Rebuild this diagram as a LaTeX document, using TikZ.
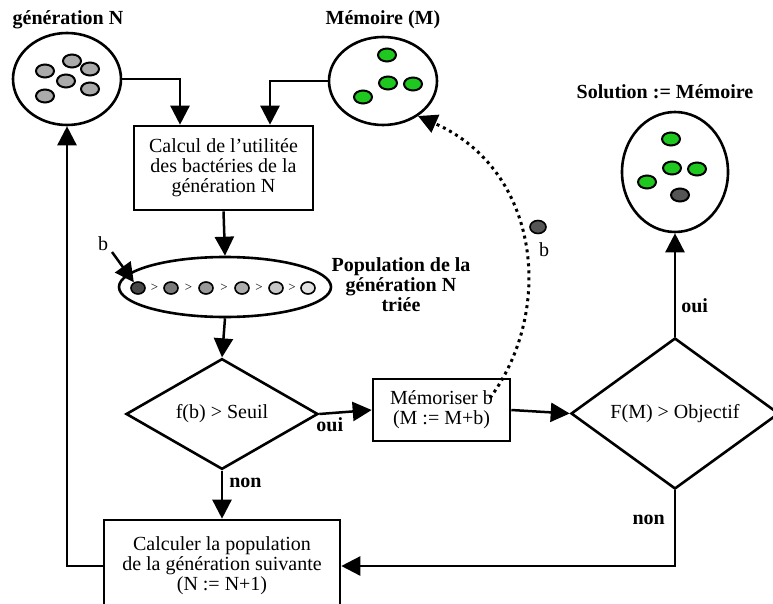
\documentclass[tikz,border=0pt]{standalone}
\usepackage{fontspec}
\setmainfont{Liberation Serif}
\usetikzlibrary{shapes.geometric,arrows.meta,calc}
\definecolor{cellgray}{RGB}{170,170,170}
\definecolor{cellgreen}{RGB}{30,200,30}
\definecolor{celldark}{RGB}{85,85,85}
\begin{document}
\begin{tikzpicture}[x=1pt,y=-1pt,
  font=\fontsize{20}{20}\selectfont,
  line width=2.5pt,
  arr/.style={-{Triangle[length=19pt,width=19pt]}},
  boxnode/.style={draw, line width=2.6pt, align=center, inner sep=0},
  bag/.style={draw, ellipse, line width=2.6pt, inner sep=0},
  test/.style={draw, diamond, line width=2.6pt, inner sep=0},
  lab/.style={font=\fontsize{20}{20}\selectfont\bfseries, align=center, inner sep=0},
  cell/.style={draw, ellipse, line width=2pt, minimum width=18pt, minimum height=13pt, inner sep=0},
  dot/.style={draw, ellipse, line width=1.6pt, minimum width=14pt, minimum height=12pt, inner sep=0},
  gt/.style={font=\fontsize{13}{13}\selectfont, inner sep=0},
]
\useasboundingbox (0,0) rectangle (773,604);

% --- generation N -------------------------------------------------
\node[lab] (tgen) at (68,20) {génération N};
\node[bag, minimum width=108pt, minimum height=92pt] (gen) at (67,79) {};
\foreach \n/\x/\y in {1/45/71, 2/72/61, 3/90/69, 4/66/81, 5/90/89, 6/45/96}
  \node[cell, fill=cellgray] (g\n) at (\x,\y) {};

% --- memory M -----------------------------------------------------
\node[lab] (tmem) at (383,20) {Mémoire (M)};
\node[bag, minimum width=108pt, minimum height=88pt] (mem) at (383,81) {};
\foreach \n/\x/\y in {1/387/55, 2/388/83, 3/413/84, 4/363/97}
  \node[cell, fill=cellgreen] (m\n) at (\x,\y) {};

% --- solution -----------------------------------------------------
\node[lab] (tsol) at (665,92) {Solution := Mémoire};
\node[bag, minimum width=106pt, minimum height=120pt] (sol) at (675,172) {};
\foreach \n/\x/\y in {1/671/139, 2/672/168, 3/697/169, 4/647/182}
  \node[cell, fill=cellgreen] (s\n) at (\x,\y) {};
\node[cell, fill=celldark] (s5) at (680,195) {};

% --- utility computation ------------------------------------------
\node[boxnode, minimum width=179pt, minimum height=84pt] (calc) at (223.5,168)
  {Calcul de l'utilitée\\des bactéries de la\\génération N};

% --- sorted population --------------------------------------------
\node[bag, minimum width=212pt, minimum height=60pt] (pop) at (225,287) {};
\node[dot, fill=celldark!85!black] (p1) at (138,288) {};
\node[dot, fill=black!52] (p2) at (171,288) {};
\node[dot, fill=black!40] (p3) at (206,288) {};
\node[dot, fill=black!32] (p4) at (242,288) {};
\node[dot, fill=black!22] (p5) at (276,288) {};
\node[dot, fill=black!12] (p6) at (308,288) {};
\foreach \a/\b in {1/2,2/3,3/4,4/5,5/6}
  \node[gt] (gt\a) at ($(p\a)!0.5!(p\b)$) {>};
\node[inner sep=0] (blab) at (103,244) {b};
\coordinate (bstart) at (112,252);
\node[lab] (tpop) at (401,285) {Population de la\\génération N\\triée};

% --- threshold test -----------------------------------------------
\node[test, minimum width=192pt, minimum height=105pt] (d1) at (222,414) {f(b) > Seuil};

% --- memorise -----------------------------------------------------
\node[boxnode, minimum width=137pt, minimum height=62pt] (memo) at (441.5,410)
  {Mémoriser b\\(M := M+b)};

% --- objective test -----------------------------------------------
\node[test, minimum width=208pt, minimum height=151pt] (d2) at (675,413.5) {F(M) > Objectif};

% --- next generation ----------------------------------------------
\node[boxnode, minimum width=236pt, minimum height=92pt] (next) at (222,566)
  {Calculer la population\\de la génération suivante\\(N := N+1)};

% --- loose bacterium b --------------------------------------------
\node[dot, fill=celldark, minimum width=16pt, minimum height=13pt] (bb) at (538,227) {};
\node[inner sep=0] (bblab) at (544,250) {b};

% --- connectors ---------------------------------------------------
\draw[arr] (gen.east) -| ([xshift=-43.5pt]calc.north);
\draw[arr] (mem.west) -| ([xshift=46.5pt]calc.north);
\draw[arr] (calc.south) -- (pop.north);
\draw[arr] (bstart) -- (p1);
\draw[arr] (pop.south) -- (d1.north);
\draw[arr] (d1.east) -- (memo.west)
  node[lab, pos=0.2, below, yshift=-3pt] (oui1) {oui};
\draw[arr] (memo.east) -- (d2.west);
\draw[arr] (d2.north) -- (sol.south)
  node[lab, pos=0.3, right, xshift=5pt] (oui2) {oui};
\draw[arr] (d1.south) -- (next.north)
  node[lab, pos=0.25, right, xshift=6pt] (non1) {non};
\coordinate (dcorner) at (d2.south |- next.east);
\draw[arr] (d2.south) -- (dcorner) -- (next.east);
\node[lab, anchor=east] (non2) at (666,520) {non};
\draw[arr] (next.west) -| (gen.south);

% dotted return of b into memory
\coordinate (dstart) at (490,398);
\draw[arr, line width=3pt, dash pattern=on 3pt off 4pt]
  (dstart) .. controls (555,310) and (540,170) .. (mem.-45);
\end{tikzpicture}
\end{document}
